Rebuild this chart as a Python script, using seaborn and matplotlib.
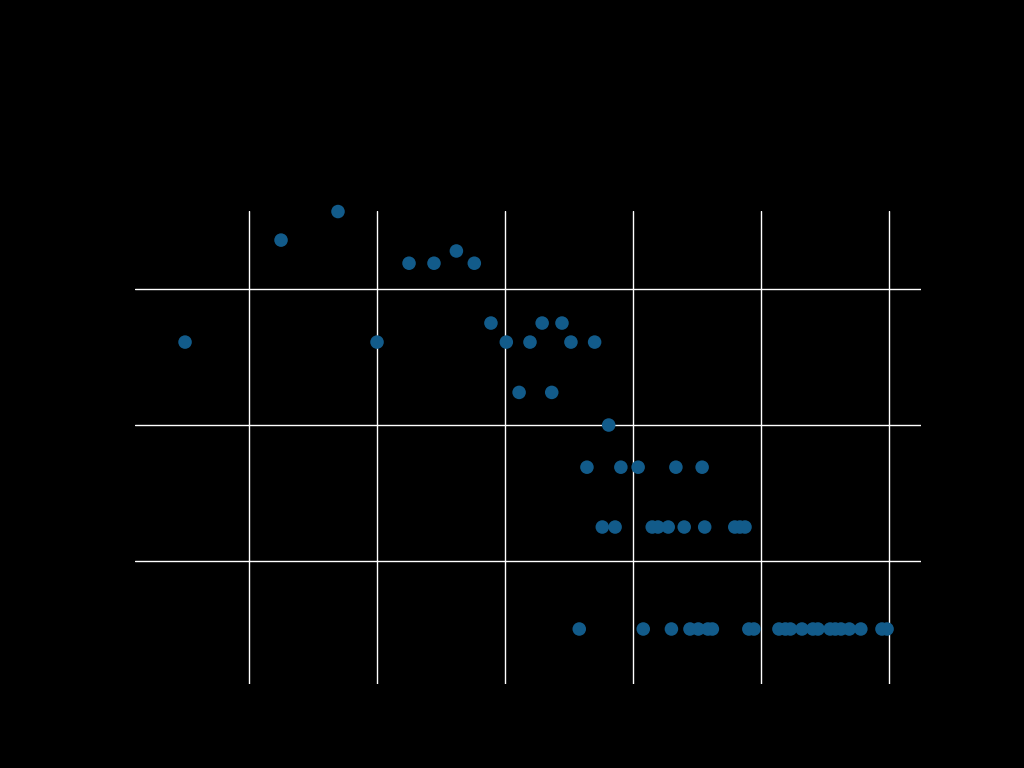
import matplotlib
matplotlib.use("Agg")
import matplotlib.pyplot as plt
import seaborn as sns
import pandas as pd

# Data (x in axis units, y in axis units)
x_values = [
    16.95,
    12.5,
    26.2,
    22.5, 24.45, 27.6,
    28.9, 32.9, 34.45,
    5.0, 20.0, 30.1, 31.95, 35.15, 37.0,
    31.1, 33.65,
    38.1,
    36.4, 39.05, 40.4, 43.35, 45.4,
    37.6, 38.6, 41.5, 41.95, 42.75, 44.0, 45.6, 47.95, 48.35, 48.75,
    35.8, 40.8, 43.0, 44.45, 45.1, 45.85, 46.2, 49.05, 49.45, 51.4,
    51.9, 52.3, 53.2, 54.05, 54.45, 55.4, 55.8, 56.25, 56.9, 57.8,
    59.45, 59.85,
]
y_values = [
    35.7,
    33.6,
    32.8,
    31.9, 31.9, 31.9,
    27.5, 27.5, 27.5,
    26.1, 26.1, 26.1, 26.1, 26.1, 26.1,
    22.4, 22.4,
    20.0,
    16.9, 16.9, 16.9, 16.9, 16.9,
    12.5, 12.5, 12.5, 12.5, 12.5, 12.5, 12.5, 12.5, 12.5, 12.5,
    5.0, 5.0, 5.0, 5.0, 5.0, 5.0, 5.0, 5.0, 5.0, 5.0,
    5.0, 5.0, 5.0, 5.0, 5.0, 5.0, 5.0, 5.0, 5.0, 5.0,
    5.0, 5.0,
]
x_ticks = [10, 20, 30, 40, 50, 60]
y_ticks = [10, 20, 30]

df = pd.DataFrame({"x": x_values, "y": y_values})

sns.set_theme(style="darkgrid")
plt.rcParams["font.family"] = ["DejaVu Sans"]

fig = plt.figure(figsize=(10.24, 7.68), dpi=100, facecolor="black")
ax = fig.add_axes([135 / 1024, 1 - 684 / 768, (921 - 135) / 1024, (684 - 211) / 768])
ax.set_facecolor("black")

sns.scatterplot(data=df, x="x", y="y", ax=ax, color="#125b8a", s=95,
                edgecolor="none", linewidth=0, zorder=3, clip_on=False)

ax.set_xlim(1.09, 62.5)
ax.set_ylim(0.956, 35.74)
ax.set_xticks(x_ticks)
ax.set_yticks(y_ticks)
ax.grid(True, color="white", linewidth=1.0)
for s in ax.spines.values():
    s.set_visible(False)
ax.tick_params(colors="black", labelcolor="black", length=0, labelsize=10)
ax.set_xlabel("x", color="black")
ax.set_ylabel("y", color="black")

fig.savefig("out.png", dpi=100, facecolor="black")
